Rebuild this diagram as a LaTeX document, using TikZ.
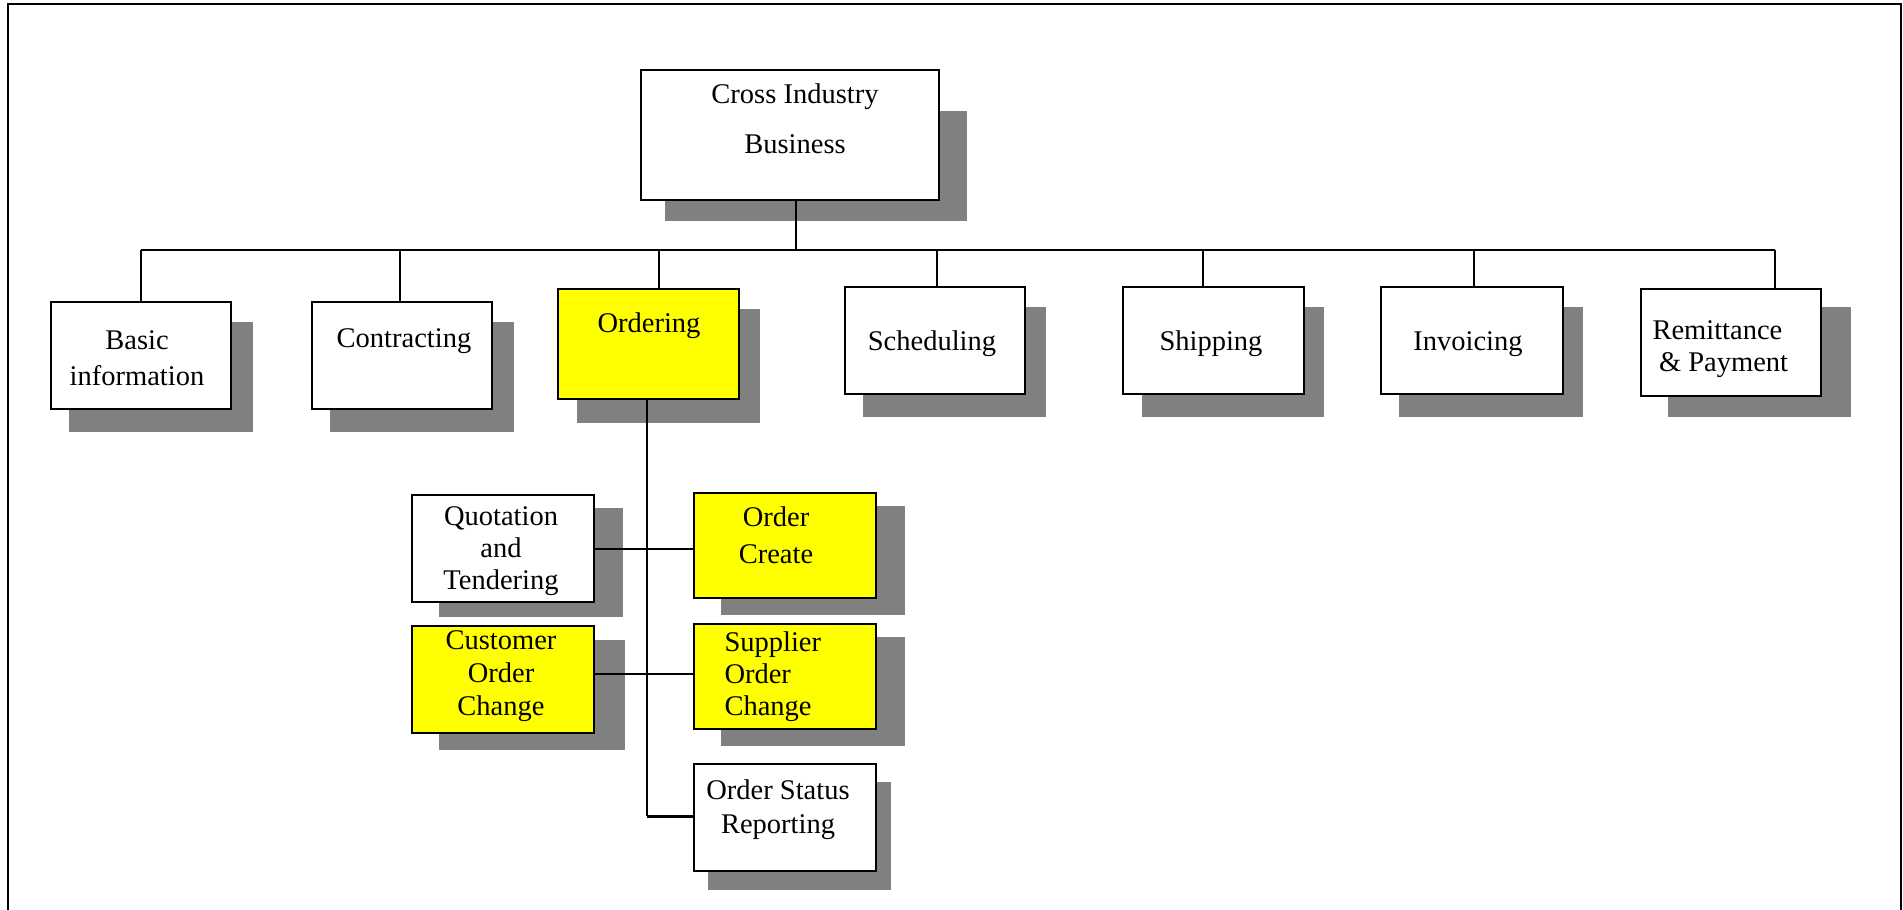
\documentclass[tikz,border=0pt]{standalone}
\usepackage{fontspec}
\setmainfont{Liberation Serif}
\usetikzlibrary{fit,backgrounds}

\definecolor{boxyellow}{HTML}{FFFF00}
\definecolor{shadowgray}{HTML}{808080}

\tikzset{
  box/.style={draw=black, line width=0.6pt, fill=white, inner sep=0pt},
  ybox/.style={box, fill=boxyellow, line width=0.75pt},
  hibox/.style={box, fill=boxyellow, line width=1.1pt},
  shade/.style={fill=shadowgray},
  label/.style={font=\fontsize{11.4}{13}\selectfont, inner sep=0pt, align=center},
  link/.style={line width=0.55pt},
  trunk/.style={line width=1.1pt},
  frame/.style={line width=0.7pt}
}

% \orgbox{name}{style}{x0}{y0}{x1}{y1}{shadow x0}{shadow y0}{shadow x1,y1}
\newcommand{\orgbox}[9]{%
  \fill[shade] (#7,#8) rectangle (#9);
  \node[#2, fit={(#3,#4) (#5,#6)}] (#1) {};
}

\begin{document}
\begin{tikzpicture}[x=0.4pt, y=-0.4pt]
\useasboundingbox (0,0) rectangle (1903,910);

% page frame (open at the bottom)
\coordinate (fr-bl) at (8,910);
\coordinate (fr-tl) at (8,4);
\coordinate (fr-tr) at (1901,4);
\coordinate (fr-br) at (1901,910);
\draw[frame] (fr-bl) -- (fr-tl) -- (fr-tr) -- (fr-br);

% boxes with their drop shadows
\orgbox{top}{box}{641}{70}{939}{200}{665}{111}{967,221}
\orgbox{basic}{box}{51}{302}{231}{409}{69}{322}{253,432}
\orgbox{contr}{box}{312}{302}{492}{409}{330}{322}{514,432}
\orgbox{order}{hibox}{558}{289}{739}{399}{577}{309}{760,423}
\orgbox{sched}{box}{845}{287}{1025}{394}{863}{307}{1046,417}
\orgbox{ship}{box}{1123}{287}{1304}{394}{1142}{307}{1324,417}
\orgbox{invo}{box}{1381}{287}{1563}{394}{1399}{307}{1583,417}
\orgbox{remit}{box}{1641}{289}{1821}{396}{1668}{307}{1851,417}
\orgbox{quot}{box}{412}{495}{594}{602}{439}{508}{623,617}
\orgbox{create}{ybox}{694}{493}{876}{598}{721}{506}{905,615}
\orgbox{cust}{ybox}{412}{626}{594}{733}{439}{640}{625,750}
\orgbox{supp}{ybox}{694}{624}{876}{729}{721}{637}{905,746}
\orgbox{status}{box}{694}{764}{876}{871}{708}{782}{891,890}

% box texts
\node[label, font=\fontsize{11.4}{20}\selectfont] (t-top) at (795,119) {Cross Industry\\Business};
\node[label, font=\fontsize{11.4}{14.4}\selectfont] (t-basic) at (137,358) {Basic\\information};
\node[label] (t-contr) at (404,341) {Contracting};
\node[label] (t-order) at (649,326) {Ordering};
\node[label] (t-sched) at (932,344) {Scheduling};
\node[label] (t-ship) at (1211,344) {Shipping};
\node[label] (t-invo) at (1468,344) {Invoicing};
\node[label, font=\fontsize{11.4}{12.6}\selectfont, anchor=west, align=left] (t-remit) at (1652,349) {Remittance\\\hspace{2.6pt}\& Payment};
\node[label, font=\fontsize{11.4}{12.8}\selectfont] (t-quot) at (501,551) {Quotation\\and\\Tendering};
\node[label, font=\fontsize{11.4}{14.8}\selectfont] (t-create) at (776,535) {Order\\Create};
\node[label, font=\fontsize{11.4}{13.2}\selectfont] (t-cust) at (501,676) {Customer\\Order\\Change};
\node[label, font=\fontsize{11.4}{12.8}\selectfont, anchor=west, align=left] (t-supp) at (724,677) {Supplier\\Order\\Change};
\node[label, font=\fontsize{11.4}{13.6}\selectfont] (t-status) at (778,810) {Order Status\\Reporting};

% top level bus
\coordinate (bus-top) at (796,250);
\coordinate (bus-l) at (141,250);
\coordinate (bus-r) at (1775,250);
\draw[trunk] (top.south -| bus-top) -- (bus-top);
\draw[link] (bus-l) -- (bus-r);

% drops from the bus to each area
\coordinate (d-contr) at (400,250);
\coordinate (d-order) at (659,250);
\coordinate (d-sched) at (937,250);
\coordinate (d-ship) at (1203,250);
\coordinate (d-invo) at (1474,250);
\draw[link] (bus-l) -- (bus-l |- basic.north);
\draw[link] (d-contr) -- (d-contr |- contr.north);
\draw[link] (d-order) -- (d-order |- order.north);
\draw[link] (d-sched) -- (d-sched |- sched.north);
\draw[link] (d-ship) -- (d-ship |- ship.north);
\draw[link] (d-invo) -- (d-invo |- invo.north);
\draw[link] (bus-r) -- (bus-r |- remit.north);

% ordering sub-tree
\coordinate (spine) at (647,816);
\draw[line width=0.7pt] (order.south -| spine) -- (spine);
\draw[line width=1.2pt] (spine) -- (spine -| status.west);
\coordinate (row1) at (647,549);
\coordinate (row2) at (647,674);
\draw[link] (row1 -| quot.east) -- (row1 -| create.west);
\draw[link] (row2 -| cust.east) -- (row2 -| supp.west);
\end{tikzpicture}
\end{document}
